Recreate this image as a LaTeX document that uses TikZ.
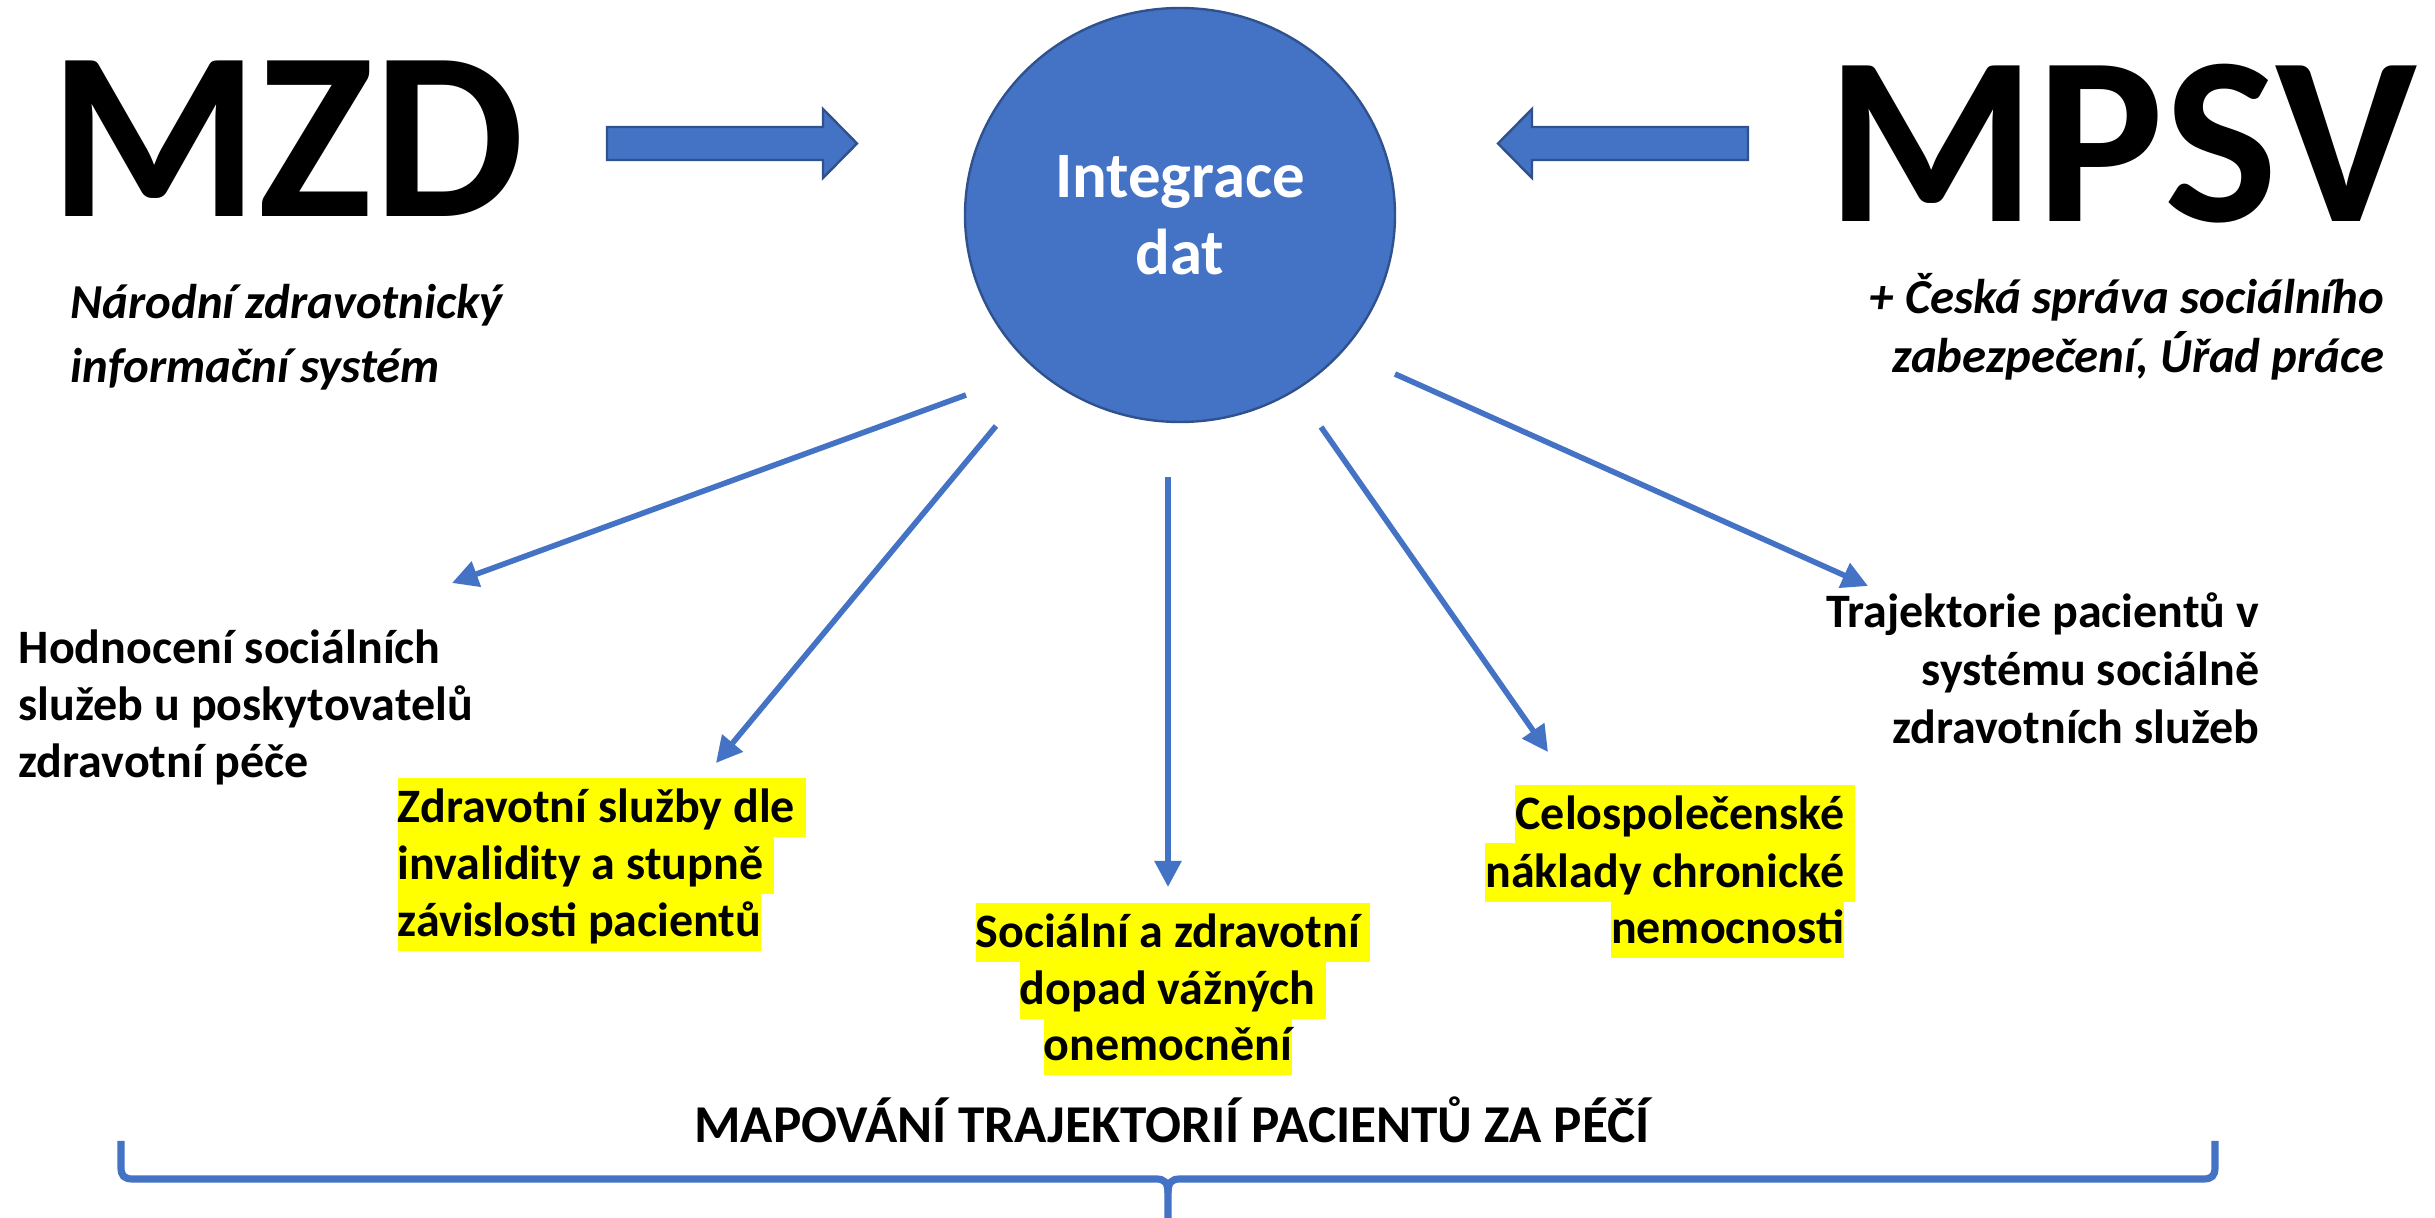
\documentclass[tikz,border=0pt]{standalone}
\usepackage{fontspec}
\setmainfont{Carlito}
\usetikzlibrary{arrows.meta,shapes.geometric}
\definecolor{pblue}{HTML}{4472C4}
\definecolor{pborder}{HTML}{2F528F}
\definecolor{hl}{HTML}{FFFF00}
\begin{document}
\begin{tikzpicture}[x=0.25pt,y=-0.25pt,
  txt/.style={inner sep=0pt, font=\bfseries\fontsize{12}{14.4}\selectfont},
  hltxt/.style={txt, fill=hl, text height=11.2pt, text depth=3.5pt},
  sub/.style={inner sep=0pt, font=\bfseries\itshape\fontsize{12.2}{14.6}\selectfont},
  big/.style={inner sep=0pt, font=\bfseries\fontsize{60}{72}\selectfont},
  conn/.style={pblue, line width=1.4pt, -{Triangle[length=6.5pt,width=6.5pt]}},
  blockarrow/.style={fill=pblue, draw=pborder, line width=0.6pt, line join=miter},
  bracestyle/.style={pblue, line width=1.8pt, line cap=butt},
]
\useasboundingbox (0,0) rectangle (2435,1218);

% central circle
\node[ellipse, fill=pblue, draw=pborder, line width=0.6pt, minimum width=107.5pt, minimum height=103.5pt,
      inner sep=0pt, align=center, text=white, font=\bfseries\fontsize{16.2}{19.3}\selectfont]
      (hub) at (1180,215) {Integrace\\dat};

% big labels
\node[big, anchor=base] (mzd) at (287,217) {MZD};
\node[big, anchor=base] (mpsv) at (2122,222) {MPSV};

% subtitles
\node[sub, anchor=base west] (nzis1) at (70,319) {Národní zdravotnický};
\node[sub, anchor=base west] (nzis2) at (70,383) {informační systém};
\node[sub, anchor=base east] (cssz1) at (2385,314) {+ Česká správa sociálního};
\node[sub, anchor=base east] (cssz2) at (2385,373) {zabezpečení, Úřad práce};

% block arrows
\draw[blockarrow] (607,127) -- (823,127) -- (823,109) -- (857,143.5) -- (823,178) -- (823,160) -- (607,160) -- cycle;
\draw[blockarrow] (1748,127) -- (1532,127) -- (1532,109) -- (1498,143.5) -- (1532,178) -- (1532,160) -- (1748,160) -- cycle;

% outputs
\node[txt, anchor=base west] (hod1) at (18,664) {Hodnocení sociálních};
\node[txt, anchor=base west] (hod2) at (18,721) {služeb u poskytovatelů};
\node[txt, anchor=base west] (hod3) at (18,778) {zdravotní péče};

\node[hltxt, anchor=base west] (zdr1) at (397,823) {Zdravotní služby dle\hbox{\ }};
\node[hltxt, anchor=base west] (zdr2) at (397,880) {invalidity a stupně\hbox{\ }};
\node[hltxt, anchor=base west] (zdr3) at (397,937) {závislosti pacientů};

\node[hltxt, anchor=base] (soc1) at (1173,948) {Sociální a zdravotní\hbox{\ }};
\node[hltxt, anchor=base] (soc2) at (1173,1005) {dopad vážných\hbox{\ }};
\node[hltxt, anchor=base] (soc3) at (1168,1061) {onemocnění};

\node[hltxt, anchor=base east] (cel1) at (1856,830) {Celospolečenské\hbox{\ }};
\node[hltxt, anchor=base east] (cel2) at (1856,888) {náklady chronické\hbox{\ }};
\node[hltxt, anchor=base east] (cel3) at (1845,944) {nemocnosti};

\node[txt, anchor=base east] (tra1) at (2260,628) {Trajektorie pacientů v};
\node[txt, anchor=base east] (tra2) at (2260,686) {systému sociálně};
\node[txt, anchor=base east] (tra3) at (2260,744) {zdravotních služeb};

\node[inner sep=0pt, anchor=base, font=\bfseries\fontsize{13.3}{16}\selectfont] (map) at (1172,1143)
  {MAPOVÁNÍ TRAJEKTORIÍ PACIENTŮ ZA PÉČÍ};

% connector arrows
\coordinate (as) at (966,395);  \coordinate (ae) at (452,583);
\coordinate (bs) at (996,426);  \coordinate (be) at (716,763);
\coordinate (cs) at (1168,477); \coordinate (ce) at (1168,887);
\coordinate (ds) at (1321,427); \coordinate (de) at (1548,752);
\coordinate (es) at (1395,374); \coordinate (ee) at (1868,586);
\draw[conn] (as) -- (ae);
\draw[conn] (bs) -- (be);
\draw[conn] (cs) -- (ce);
\draw[conn] (ds) -- (de);
\draw[conn] (es) -- (ee);

% brace
\coordinate (brl) at (121,1141);
\coordinate (brr) at (2215,1141);
\coordinate (brm) at (1168,1218);
\draw[bracestyle] (brl) -- (121,1167) .. controls (121,1176) and (124,1179) .. (133,1179)
  -- (1156,1179) .. controls (1165,1179) and (1168,1183) .. (1168,1193) -- (brm);
\draw[bracestyle] (brr) -- (2215,1167) .. controls (2215,1176) and (2212,1179) .. (2203,1179)
  -- (1180,1179) .. controls (1171,1179) and (1168,1183) .. (1168,1193);
\end{tikzpicture}
\end{document}
